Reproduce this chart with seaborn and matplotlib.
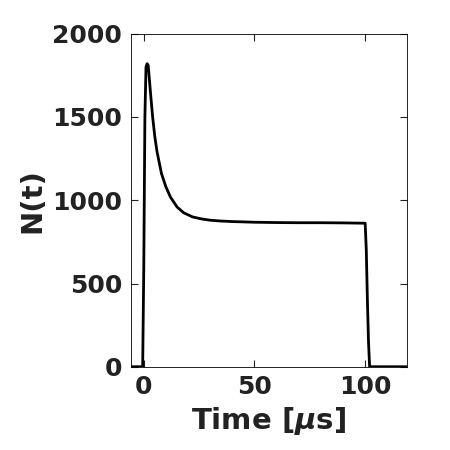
import matplotlib
matplotlib.use("Agg")
import matplotlib.pyplot as plt
import seaborn as sns

time_us = [-6, -0.5, 0, 0.5, 1.0, 1.5, 2.0, 3, 4, 5, 6, 8, 10, 12, 15, 18, 22, 26,
           30, 35, 40, 50, 60, 70, 80, 90, 100, 100.5, 101, 101.5, 102, 105, 119]
counts = [0, 0, 600, 1500, 1800, 1820, 1810, 1650, 1500, 1380, 1290, 1160, 1080,
          1020, 960, 925, 900, 888, 880, 875, 872, 868, 866, 865, 865, 864, 862,
          700, 400, 150, 0, 0, 0]


def main():
    sns.set_theme(style="white")
    plt.rcParams["font.family"] = ["DejaVu Sans"]
    plt.rcParams["font.weight"] = "bold"

    fig, ax = plt.subplots(figsize=(4.5, 4.5), dpi=100)
    sns.lineplot(x=time_us, y=counts, color="black", linewidth=2, ax=ax)

    ax.set_xlim(-6, 119)
    ax.set_ylim(0, 2000)
    ax.set_xticks([0, 50, 100])
    ax.set_yticks([0, 500, 1000, 1500, 2000])
    ax.tick_params(direction="in", top=True, right=True, length=5, width=0.8,
                   bottom=True, left=True, labelsize=18, colors="#222222", pad=6)
    for lbl in ax.get_xticklabels() + ax.get_yticklabels():
        lbl.set_fontweight("bold")
    for s in ax.spines.values():
        s.set_color("black")
        s.set_linewidth(0.6)
    ax.set_xlabel("Time [$\\mu$s]", fontsize=21, fontweight="bold", color="#222222")
    ax.set_ylabel("N(t)", fontsize=21, fontweight="bold", color="#222222")

    fig.subplots_adjust(left=0.29, right=0.905, bottom=0.185, top=0.925)
    fig.savefig("out.png", dpi=100)


if __name__ == "__main__":
    main()
